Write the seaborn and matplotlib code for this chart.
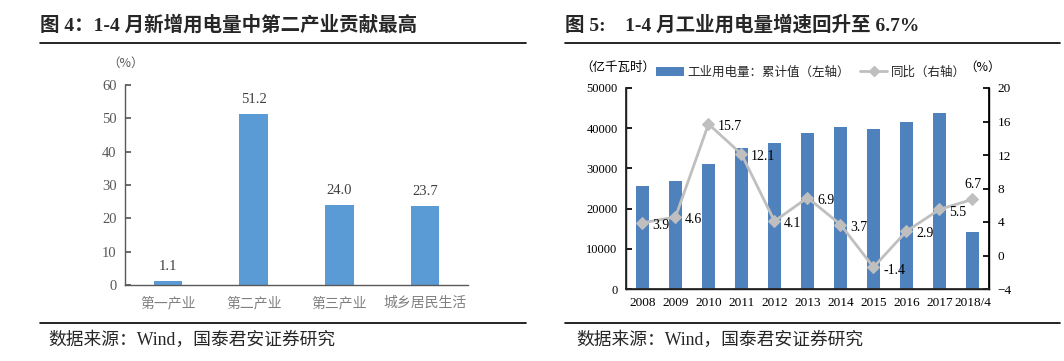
import matplotlib
matplotlib.use("Agg")
import matplotlib.pyplot as plt
import seaborn as sns
import pandas as pd
from matplotlib.lines import Line2D
from matplotlib.patches import Patch

sns.set_theme(style="white")
plt.rcParams['font.family'] = ['Liberation Serif', 'Noto Sans CJK SC', 'DejaVu Sans']

# ---- data ----
left_categories = ["第一产业", "第二产业", "第三产业", "城乡居民生活"]
left_values = [1.1, 51.2, 24.0, 23.7]

years = ["2008", "2009", "2010", "2011", "2012", "2013", "2014", "2015", "2016", "2017", "2018/4"]
industrial_power = [25700, 26900, 31100, 35000, 36400, 38900, 40200, 39700, 41500, 43900, 14200]
yoy_growth = [3.9, 4.6, 15.7, 12.1, 4.1, 6.9, 3.7, -1.4, 2.9, 5.5, 6.7]

left_title = "图 4：1-4 月新增用电量中第二产业贡献最高"
right_title = "图 5:    1-4 月工业用电量增速回升至 6.7%"
source_text = "数据来源：Wind，国泰君安证券研究"

W, H = 1064, 361
fig = plt.figure(figsize=(W / 100, H / 100), dpi=100)
fig.patch.set_facecolor("white")

def fx(px):
    return px / W

def fy(py):
    return 1 - py / H

# ---- left chart ----
ax1 = fig.add_axes([fx(125), fy(285), fx(468 - 125), (285 - 85) / H])
df1 = pd.DataFrame({"cat": left_categories, "val": left_values})
sns.barplot(data=df1, x="cat", y="val", ax=ax1, color="#5B9BD5", width=0.33,
            saturation=1, edgecolor="none")
ax1.set_xlim(-0.5, 3.5)
ax1.set_ylim(0, 60)
ax1.set_yticks(range(0, 61, 10))
ax1.set_xlabel("")
ax1.set_ylabel("")
for s in ["top", "right"]:
    ax1.spines[s].set_visible(False)
for s in ["left", "bottom"]:
    ax1.spines[s].set_color("#595959")
    ax1.spines[s].set_linewidth(1.0)
ax1.tick_params(axis="y", direction="in", length=4, color="#595959", labelsize=10.5,
                labelcolor="#595959", pad=6, left=True)
ax1.tick_params(axis="x", length=0, labelsize=10, labelcolor="#808080", pad=8)
for lbl in ax1.get_xticklabels():
    lbl.set_family(['Noto Sans CJK SC'])
for i, v in enumerate(left_values):
    ax1.annotate(f"{v:.1f}", (i, v), xytext=(0, 6), textcoords="offset points",
                 ha="center", va="bottom", fontsize=10.5, color="#404040")
fig.text(fx(126), fy(63), "（%）", ha="center", va="center", fontsize=9, color="#595959",
         family=['Noto Sans CJK SC'])

# ---- right chart ----
ax2 = fig.add_axes([fx(626), fy(289), fx(989 - 626), (289 - 88) / H])
df2 = pd.DataFrame({"year": years, "val": industrial_power})
sns.barplot(data=df2, x="year", y="val", ax=ax2, color="#4F81BD", width=0.4,
            saturation=1, edgecolor="none")
ax2.set_xlim(-0.5, len(years) - 0.5)
ax2.set_ylim(0, 50000)
ax2.set_yticks(range(0, 50001, 10000))
ax2.set_xlabel("")
ax2.set_ylabel("")
ax2.spines["top"].set_visible(False)
for s in ["left", "bottom", "right"]:
    ax2.spines[s].set_color("#000000")
    ax2.spines[s].set_linewidth(1.0)
ax2.tick_params(axis="y", direction="in", length=4, color="black", labelsize=9,
                labelcolor="black", pad=6, left=True)
ax2.tick_params(axis="x", length=0, labelsize=9.5, labelcolor="black", pad=6)

ax3 = ax2.twinx()
xs = list(range(len(years)))
sns.lineplot(x=xs, y=yoy_growth, ax=ax3, color="#BFBFBF", linewidth=2,
             marker="D", markersize=6, markeredgecolor="#BFBFBF", sort=False)
ax3.set_ylim(-4, 20)
ax3.set_yticks(range(-4, 21, 4))
ax3.spines["top"].set_visible(False)
ax3.spines["right"].set_color("black")
ax3.tick_params(axis="y", direction="in", length=4, color="black", labelsize=9.5,
                labelcolor="black", pad=6, right=True)
for i, v in enumerate(yoy_growth):
    if i == len(yoy_growth) - 1:
        ax3.annotate(f"{v:.1f}", (i, v), xytext=(0, 6), textcoords="offset points",
                     ha="center", va="bottom", fontsize=10, color="black")
    else:
        ax3.annotate(f"{v:.1f}", (i, v), xytext=(7, -2), textcoords="offset points",
                     ha="left", va="center", fontsize=10, color="black")

fig.text(fx(618), fy(67), "（亿千瓦时）", ha="center", va="center", fontsize=9,
         family=['Noto Sans CJK SC'], color="black")
fig.text(fx(983), fy(67), "（%）", ha="center", va="center", fontsize=9,
         family=['Noto Sans CJK SC'], color="black")
handles = [Patch(facecolor="#4F81BD", edgecolor="none"),
           Line2D([0], [0], color="#BFBFBF", lw=2, marker="D", markersize=5)]
leg = fig.legend(handles, ["工业用电量：累计值（左轴）", "同比（右轴）"],
                 loc="center left", bbox_to_anchor=(fx(656), fy(72)), ncol=2,
                 frameon=False, prop={"family": "Noto Sans CJK SC", "size": 9},
                 handlelength=2.2, handletextpad=0.3, columnspacing=0.8,
                 borderaxespad=0, borderpad=0)

# ---- titles, rules, sources ----
fig.text(fx(40), fy(25), left_title, ha="left", va="center", fontsize=14,
         fontweight="bold", family=['Liberation Serif', 'Noto Sans CJK SC'])
fig.text(fx(565), fy(25), right_title, ha="left", va="center", fontsize=14,
         fontweight="bold", family=['Liberation Serif', 'Noto Sans CJK SC'])
for x0, x1 in [(40, 526), (565, 1060)]:
    fig.add_artist(Line2D([fx(x0), fx(x1)], [fy(43), fy(43)], color="black", lw=1.2))
for x0, x1 in [(40, 526), (565, 1060)]:
    fig.add_artist(Line2D([fx(x0), fx(x1)], [fy(323), fy(323)], color="black", lw=1.2))
fig.text(fx(48), fy(340), source_text, ha="left", va="center", fontsize=12.8,
         family=['Liberation Serif', 'Noto Sans CJK SC'])
fig.text(fx(576), fy(340), source_text, ha="left", va="center", fontsize=12.8,
         family=['Liberation Serif', 'Noto Sans CJK SC'])

fig.savefig("out.png", dpi=100, facecolor="white")
